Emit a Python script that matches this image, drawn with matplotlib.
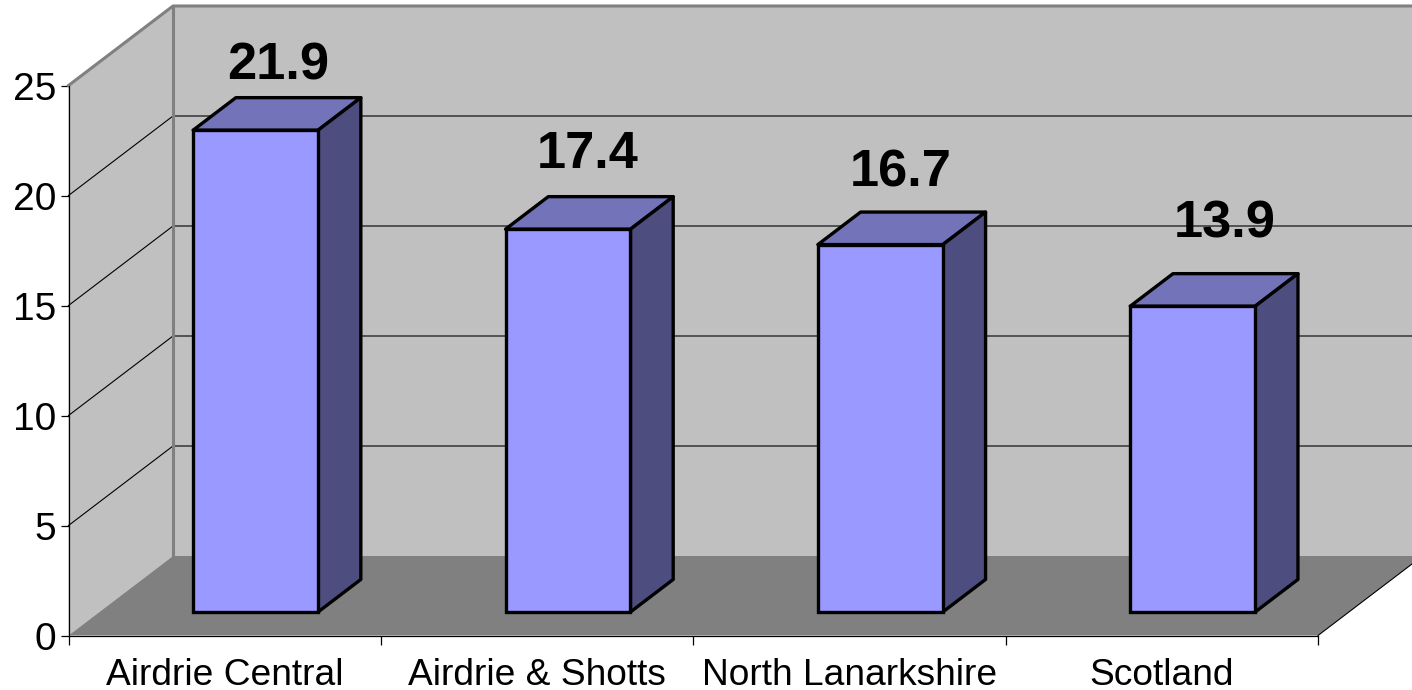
"""
3D-look column chart drawn on a flat matplotlib axes.
"""

import matplotlib.pyplot as plt
from matplotlib.patches import Polygon

categories = ["Airdrie Central", "Airdrie & Shotts", "North Lanarkshire", "Scotland"]
values = [21.9, 17.4, 16.7, 13.9]
y_ticks = [0, 5, 10, 15, 20, 25]

# label nudges in pixels, these were placed by hand in the original
label_dx = [23, 20, 20, 32]
label_dy = [64, 75, 72, 82]

WIDTH, HEIGHT = 1412, 690
LEFT, RIGHT, BOTTOM, TOP = 68.5, 1318, 635.5, 85.5

# depth of the box, in data units
DEPTH_X = 104.5 / ((RIGHT - LEFT) / 4)
DEPTH_Y = 79.5 / ((BOTTOM - TOP) / 25)

BAR_WIDTH = 0.4
BAR_FRONT = 0.296
BAR_BACK = 0.705

plt.rcParams["font.family"] = ["Liberation Sans", "DejaVu Sans"]


def project(x, y, depth):
    """
    Move a data point back into the box.
    """

    return (x + depth * DEPTH_X, y + depth * DEPTH_Y)


fig = plt.figure(figsize=(WIDTH / 100, HEIGHT / 100), dpi=100)
ax = fig.add_axes(
    [
        LEFT / WIDTH,
        (HEIGHT - BOTTOM) / HEIGHT,
        (RIGHT - LEFT) / WIDTH,
        (BOTTOM - TOP) / HEIGHT,
    ]
)
ax.set_xlim(0, 4)
ax.set_ylim(0, 25)
ax.patch.set_alpha(0)

# Walls and floor
back_wall = [project(0, 0, 1), project(4, 0, 1), project(4, 25, 1), project(0, 25, 1)]
side_wall = [project(0, 0, 0), project(0, 25, 0), project(0, 25, 1), project(0, 0, 1)]
floor = [project(0, 0, 0), project(4, 0, 0), project(4, 0, 1), project(0, 0, 1)]

ax.add_patch(Polygon(back_wall, facecolor="#c0c0c0", edgecolor="none", clip_on=False, zorder=1))
ax.add_patch(Polygon(side_wall, facecolor="#c0c0c0", edgecolor="none", clip_on=False, zorder=1))
ax.add_patch(Polygon(floor, facecolor="#808080", edgecolor="none", clip_on=False, zorder=1))

# Gridlines
for tick in y_ticks[1:-1]:
    points = [project(0, tick, 0), project(0, tick, 1), project(4, tick, 1)]
    ax.plot(*zip(*points), color="black", linewidth=0.8, clip_on=False, zorder=2)

# Wall edges
edge = [project(0, 25, 0), project(0, 25, 1), project(4, 25, 1)]
ax.plot(*zip(*edge), color="#808080", linewidth=2.2, clip_on=False, zorder=3)
corner = [project(0, 0, 1), project(0, 25, 1)]
ax.plot(*zip(*corner), color="#808080", linewidth=2.2, clip_on=False, zorder=3)
floor_edge = [project(4, 0, 0), project(4, 0, 1)]
ax.plot(*zip(*floor_edge), color="black", linewidth=0.8, clip_on=False, zorder=3)

# Bars
for i, value in enumerate(values):
    x0 = i + 0.5 + BAR_FRONT * DEPTH_X - BAR_WIDTH / 2
    x1 = x0 + BAR_WIDTH
    y0 = BAR_FRONT * DEPTH_Y
    y1 = y0 + value
    shift_x = (BAR_BACK - BAR_FRONT) * DEPTH_X
    shift_y = (BAR_BACK - BAR_FRONT) * DEPTH_Y

    top = [(x0, y1), (x1, y1), (x1 + shift_x, y1 + shift_y), (x0 + shift_x, y1 + shift_y)]
    side = [(x1, y0), (x1, y1), (x1 + shift_x, y1 + shift_y), (x1 + shift_x, y0 + shift_y)]

    ax.add_patch(Polygon(top, facecolor="#7373b9", edgecolor="black", linewidth=2.4, joinstyle="round", zorder=4))
    ax.add_patch(Polygon(side, facecolor="#4d4d80", edgecolor="black", linewidth=2.4, joinstyle="round", zorder=4))
    ax.bar(
        x0,
        value,
        width=BAR_WIDTH,
        bottom=y0,
        align="edge",
        color="#9999ff",
        edgecolor="black",
        linewidth=2.4,
        zorder=5,
    )

    ax.annotate(
        f"{value:.1f}",
        xy=((x0 + x1) / 2, y1),
        xytext=(label_dx[i] * 0.72, label_dy[i] * 0.72),
        textcoords="offset points",
        ha="center",
        va="center",
        fontsize=37.7,
        fontweight="bold",
        color="black",
        zorder=6,
    )

# Axes
for side_name in ["top", "right"]:
    ax.spines[side_name].set_visible(False)
for side_name in ["left", "bottom"]:
    ax.spines[side_name].set_linewidth(0.9)
    ax.spines[side_name].set_zorder(3)

ax.set_yticks(y_ticks)
ax.set_xticks(range(5))
ax.set_xticklabels([])
ax.set_xticks([i + 0.5 for i in range(4)], minor=True)
ax.set_xticklabels(categories, minor=True)

ax.tick_params(axis="y", length=6, width=0.9, labelsize=28, pad=3)
ax.tick_params(axis="x", which="major", length=6.5, width=0.9)
ax.tick_params(axis="x", which="minor", length=0, labelsize=26.7, pad=16)

fig.savefig("out.png", dpi=100)
